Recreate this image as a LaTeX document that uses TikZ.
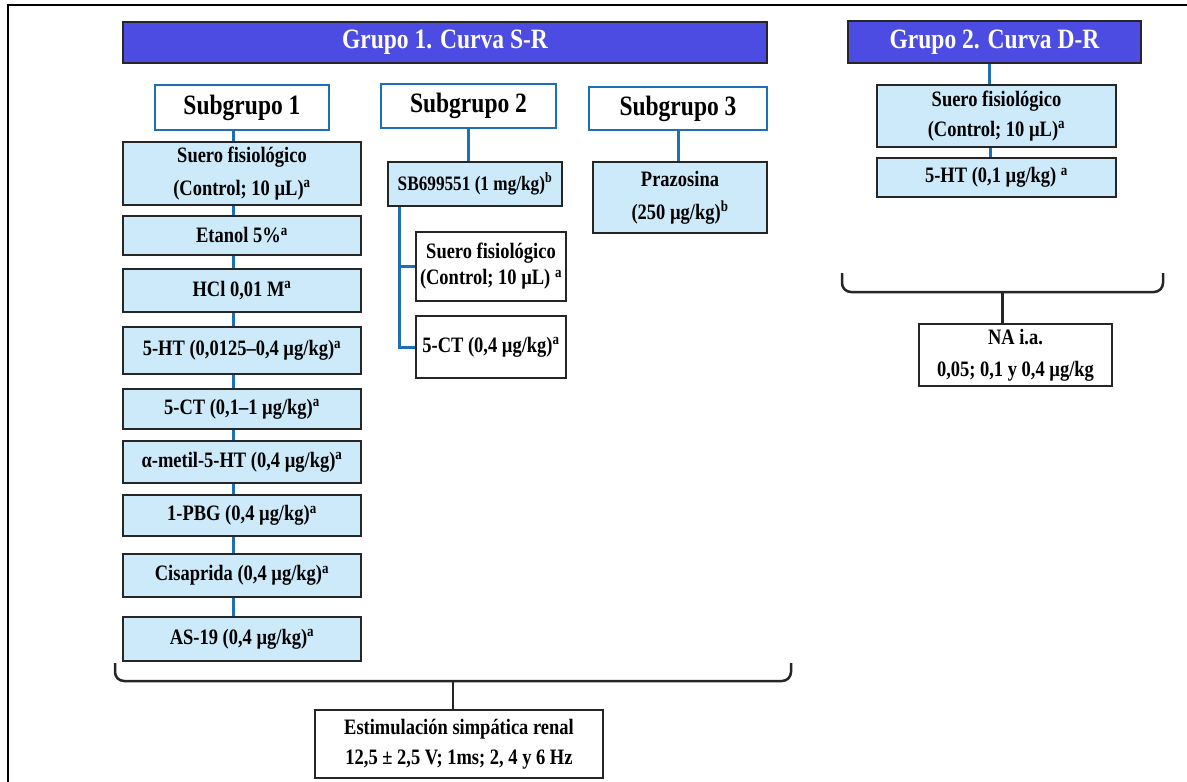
\documentclass[tikz,border=0pt]{standalone}
\usepackage{fontspec}
\setmainfont{Liberation Serif}[FakeStretch=0.84]
\usetikzlibrary{calc}
\definecolor{hdrblue}{RGB}{76,76,226}
\definecolor{linkblue}{RGB}{30,112,182}
\definecolor{doseblue}{RGB}{204,234,250}

\begin{document}
\begin{tikzpicture}[x=1pt, y=-1pt,
    wh/.style 2 args={minimum width=#1pt, minimum height=#2pt},
    grp/.style={draw=black!85, line width=1.5pt, fill=hdrblue, text=white,
        font=\bfseries\fontsize{28}{30}\selectfont, inner sep=0pt},
    sub/.style={draw=linkblue, line width=1.6pt, fill=white,
        font=\bfseries\fontsize{28}{30}\selectfont, inner sep=0pt},
    dose/.style={draw=black!85, line width=1.6pt, fill=doseblue, align=center,
        font=\bfseries\fontsize{22}{#1}\selectfont, inner sep=0pt},
    dose/.default=32,
    plain/.style={dose=#1, fill=white},
    plain/.default=32,
    link/.style={draw=linkblue, line width=3pt},
    brace/.style={draw=black!85, line width=2.5pt, rounded corners=9pt}]
    \useasboundingbox (0,0) rectangle (1187,782);
    \draw[line width=2.5pt] (8,782) -- (8,5) -- (1187,5);

    % group headers
    \node[grp, wh={644}{41}] (grpA) at (445,42.5) {Grupo 1. Curva S-R};
    \node[grp, wh={293}{42}] (grpB) at (994.5,42) {Grupo 2. Curva D-R};

    \node[sub, wh={174}{45}] (sub1) at (242,107.5) {Subgrupo 1};
    \node[sub, wh={175}{44}] (sub2) at (468.5,106) {Subgrupo 2};
    \node[sub, wh={178}{43}] (sub3) at (678,108.5) {Subgrupo 3};

    % subgrupo 1
    \node[dose=33, wh={238}{63}] (s1a) at (242,173.5) {Suero fisiológico\\(Control; 10 µL)\textsuperscript{a}};
    \node[dose, wh={238}{39}] (s1b) at (242,235.5) {Etanol 5\%\textsuperscript{a}};
    \node[dose, wh={238}{43}] (s1c) at (242,290.5) {HCl 0,01 M\textsuperscript{a}};
    \node[dose, wh={238}{47}] (s1d) at (242,350.5) {5-HT (0,0125–0,4 µg/kg)\textsuperscript{a}};
    \node[dose, wh={238}{40}] (s1e) at (242,409) {5-CT (0,1–1 µg/kg)\textsuperscript{a}};
    \node[dose, wh={238}{42}] (s1f) at (242,462) {α-metil-5-HT (0,4 µg/kg)\textsuperscript{a}};
    \node[dose, wh={238}{41}] (s1g) at (242,515.5) {1-PBG (0,4 µg/kg)\textsuperscript{a}};
    \node[dose, wh={238}{43}] (s1h) at (242,575.5) {Cisaprida (0,4 µg/kg)\textsuperscript{a}};
    \node[dose, wh={238}{44}] (s1i) at (242,639) {AS-19 (0,4 µg/kg)\textsuperscript{a}};
    \foreach \a/\b in {sub1/s1a, s1a/s1b, s1b/s1c, s1c/s1d, s1d/s1e, s1e/s1f, s1f/s1g, s1g/s1h, s1h/s1i}
        \draw[link] ([xshift=-9pt]\a.south) -- ([xshift=-9pt]\b.north);

    % subgrupo 2
    \node[dose, wh={174}{44}, font=\bfseries\fontsize{20.5}{24}\selectfont] (sb) at (475,184) {SB699551 (1 mg/kg)\textsuperscript{b}};
    \node[plain=26, wh={150}{69}] (c2a) at (491,266.5) {Suero fisiológico\\(Control; 10 µL) \textsuperscript{a}};
    \node[plain, wh={150}{62}] (c2b) at (491,347) {5-CT (0,4 µg/kg)\textsuperscript{a}};
    \draw[link] (sub2.south) -- (sub2.south |- sb.north);
    \draw[link] ([xshift=12pt]sb.south west) |- (c2a.west);
    \draw[link] ([xshift=12pt]sb.south west) |- (c2b.west);

    % subgrupo 3
    \node[dose=33, wh={174}{71}] (praz) at (680,197.5) {Prazosina\\(250 µg/kg)\textsuperscript{b}};
    \draw[link] (sub3.south) -- (sub3.south |- praz.north);

    % grupo 2
    \node[dose=30, wh={239}{62}] (rsa) at (996.5,116) {Suero fisiológico\\(Control; 10 µL)\textsuperscript{a}};
    \node[dose, wh={239}{39}] (rsb) at (996.5,177.5) {5-HT (0,1 µg/kg) \textsuperscript{a}};
    \draw[link] ([xshift=-5pt]grpB.south) -- ([xshift=-5pt]grpB.south |- rsa.north);
    \draw[link] ([xshift=-6pt]rsa.south) -- ([xshift=-6pt]rsb.north);

    % braces
    \node[plain=30, wh={288}{68}] (stim) at (459,744) {Estimulación simpática renal\\12,5 ± 2,5 V; 1ms; 2, 4 y 6 Hz};
    \node[plain=32, wh={193}{62}] (na) at (1015.5,355) {NA i.a.\\0,05; 0,1 y 0,4 µg/kg};
    \coordinate (tipA) at (453,681);
    \coordinate (tipB) at (1002.5,292);
    \draw[brace] (115,663) |- (791,681) -- (791,663);
    \draw[brace] (842,273) |- (1163,292) -- (1163,273);
    \draw[brace] (tipA) -- (tipA |- stim.north);
    \draw[brace] (tipB) -- (tipB |- na.north);
\end{tikzpicture}
\end{document}
